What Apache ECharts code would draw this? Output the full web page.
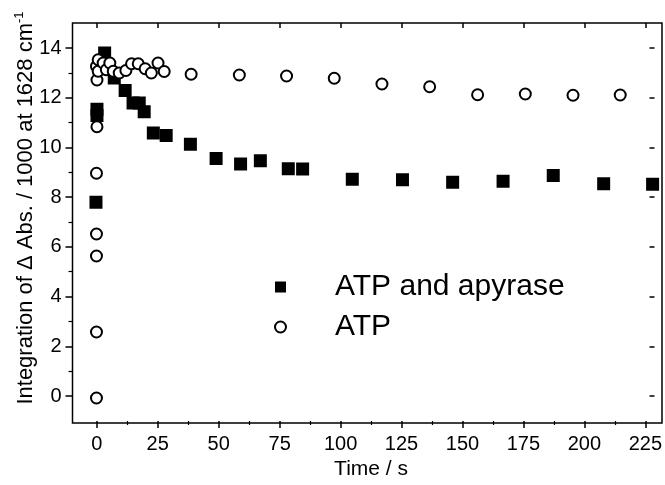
<!DOCTYPE html>
<html>
<head>
<meta charset="utf-8">
<script src="https://cdn.jsdelivr.net/npm/echarts@6/dist/echarts.min.js"></script>
<style>
  html, body { margin: 0; padding: 0; background: #fff; }
  #chart { width: 665px; height: 485px; }
</style>
</head>
<body>
<div id="chart"></div>
<script>
// ATP and apyrase (filled squares)
var apyTime  = [0, 0.4, 0.4, 3.5, 7.4, 11.8, 15, 17.5, 19.5, 23.2, 28.4, 38.2, 48.6, 58.5, 66.5, 77.8, 83.6, 103.7, 124, 144.3, 164.7, 185, 205.4, 225.2];
var apyValue = [7.83, 11.3, 11.55, 13.8, 12.8, 12.3, 11.8, 11.8, 11.45, 10.6, 10.5, 10.15, 9.58, 9.36, 9.49, 9.17, 9.16, 8.75, 8.73, 8.63, 8.67, 8.9, 8.57, 8.55];

// ATP only (open circles)
var atpTime  = [0.2, 0.2, 0.2, 0.2, 0.2, 0.4, 0.4, 0.2, 0.9, 0.9, 2.9, 4.2, 5.6, 7.0, 9.4, 12.1, 14.4, 17.1, 19.9, 22.4, 25.1, 27.6, 38.5, 58, 77.1, 96.4, 115.7, 135, 154.4, 173.7, 193, 212.1];
var atpValue = [0, 2.64, 5.68, 6.56, 8.99, 10.85, 12.72, 13.27, 13.53, 13.07, 13.4, 13.13, 13.4, 13.07, 13.0, 13.1, 13.37, 13.37, 13.17, 13.0, 13.4, 13.06, 12.95, 12.92, 12.88, 12.79, 12.56, 12.45, 12.13, 12.16, 12.11, 12.12];

// tick labels
var xTicks = [0, 25, 50, 75, 100, 125, 150, 175, 200, 225];
var yTicks = [0, 2, 4, 6, 8, 10, 12, 14];

function pairs(xs, ys) {
  return xs.map(function (x, i) { return [x, ys[i]]; });
}

var chart = echarts.init(document.getElementById('chart'), null, { renderer: 'canvas' });
var font = '"Liberation Sans", Arial, sans-serif';

// grid 0 = plot box holding the data, grid 1 = the 0..225 / 0..14 tick frame
// tick axes are pushed out onto the box edges with offset
var option = {
  backgroundColor: '#fff',
  animation: false,
  textStyle: { fontFamily: font, color: '#000' },
  grid: [
    { left: 72.5, right: 3, top: 23, bottom: 62, show: true, borderColor: '#000', borderWidth: 1.5 },
    { left: 96.8, right: 12.2, top: 48, bottom: 87 }
  ],
  legend: {
    orient: 'vertical',
    left: 269,
    top: 267,
    itemWidth: 11,
    itemHeight: 11,
    itemGap: 10,
    textStyle: { fontSize: 30, fontFamily: font, color: '#000', padding: [0, 0, 0, 44] },
    data: ['ATP and apyrase', 'ATP']
  },
  xAxis: [
    { gridIndex: 0, type: 'value', min: -9.5, max: 229, show: false },
    {
      gridIndex: 1, type: 'value', position: 'bottom', offset: 25,
      min: xTicks[0], max: xTicks[xTicks.length - 1], interval: 25,
      name: 'Time / s', nameLocation: 'middle', nameGap: 38, nameMoveOverlap: false,
      nameTextStyle: { fontSize: 21, fontFamily: font, color: '#000' },
      axisLine: { show: false, onZero: false },
      axisTick: { show: true, length: 7, lineStyle: { color: '#000', width: 1.5 } },
      minorTick: { show: true, splitNumber: 2, length: 4, lineStyle: { color: '#000', width: 1.2 } },
      splitLine: { show: false },
      axisLabel: { fontSize: 20, fontFamily: font, color: '#000', margin: 13 }
    },
    {
      gridIndex: 1, type: 'value', position: 'top', offset: 25,
      min: xTicks[0], max: xTicks[xTicks.length - 1], interval: 25,
      axisLine: { show: false, onZero: false },
      axisTick: { show: true, inside: true, length: 5, lineStyle: { color: '#000', width: 1.5 } },
      axisLabel: { show: false },
      splitLine: { show: false }
    }
  ],
  yAxis: [
    { gridIndex: 0, type: 'value', min: -1, max: 15, show: false },
    {
      gridIndex: 1, type: 'value', position: 'left', offset: 24.3,
      min: yTicks[0], max: yTicks[yTicks.length - 1], interval: 2,
      name: 'Integration of \u0394 Abs. / 1000 at 1628 cm{sup|-1}',
      nameLocation: 'middle', nameGap: 34, nameRotate: 90, nameMoveOverlap: false,
      nameTextStyle: {
        fontSize: 22, fontFamily: font, color: '#000', padding: [0, 0, 0, 28],
        rich: { sup: { fontSize: 13, fontFamily: font, color: '#000', padding: [0, 0, 13, 0] } }
      },
      axisLine: { show: false, onZero: false },
      axisTick: { show: true, length: 7, lineStyle: { color: '#000', width: 1.5 } },
      minorTick: { show: true, splitNumber: 2, length: 4, lineStyle: { color: '#000', width: 1.2 } },
      splitLine: { show: false },
      axisLabel: { fontSize: 20, fontFamily: font, color: '#000', margin: 11 }
    },
    {
      gridIndex: 1, type: 'value', position: 'right', offset: 9.2,
      min: yTicks[0], max: yTicks[yTicks.length - 1], interval: 2,
      axisLine: { show: false, onZero: false },
      axisTick: { show: true, inside: true, length: 5, lineStyle: { color: '#000', width: 1.5 } },
      axisLabel: { show: false },
      splitLine: { show: false }
    }
  ],
  series: [
    {
      name: 'ATP and apyrase', type: 'scatter', xAxisIndex: 0, yAxisIndex: 0,
      symbol: 'rect', symbolSize: 13,
      itemStyle: { color: '#000', opacity: 1 },
      data: pairs(apyTime, apyValue)
    },
    {
      name: 'ATP', type: 'scatter', xAxisIndex: 0, yAxisIndex: 0,
      symbol: 'circle', symbolSize: 11,
      itemStyle: { color: '#fff', borderColor: '#000', borderWidth: 2, opacity: 1 },
      data: pairs(atpTime, atpValue)
    }
  ]
};

chart.setOption(option);
</script>
</body>
</html>
